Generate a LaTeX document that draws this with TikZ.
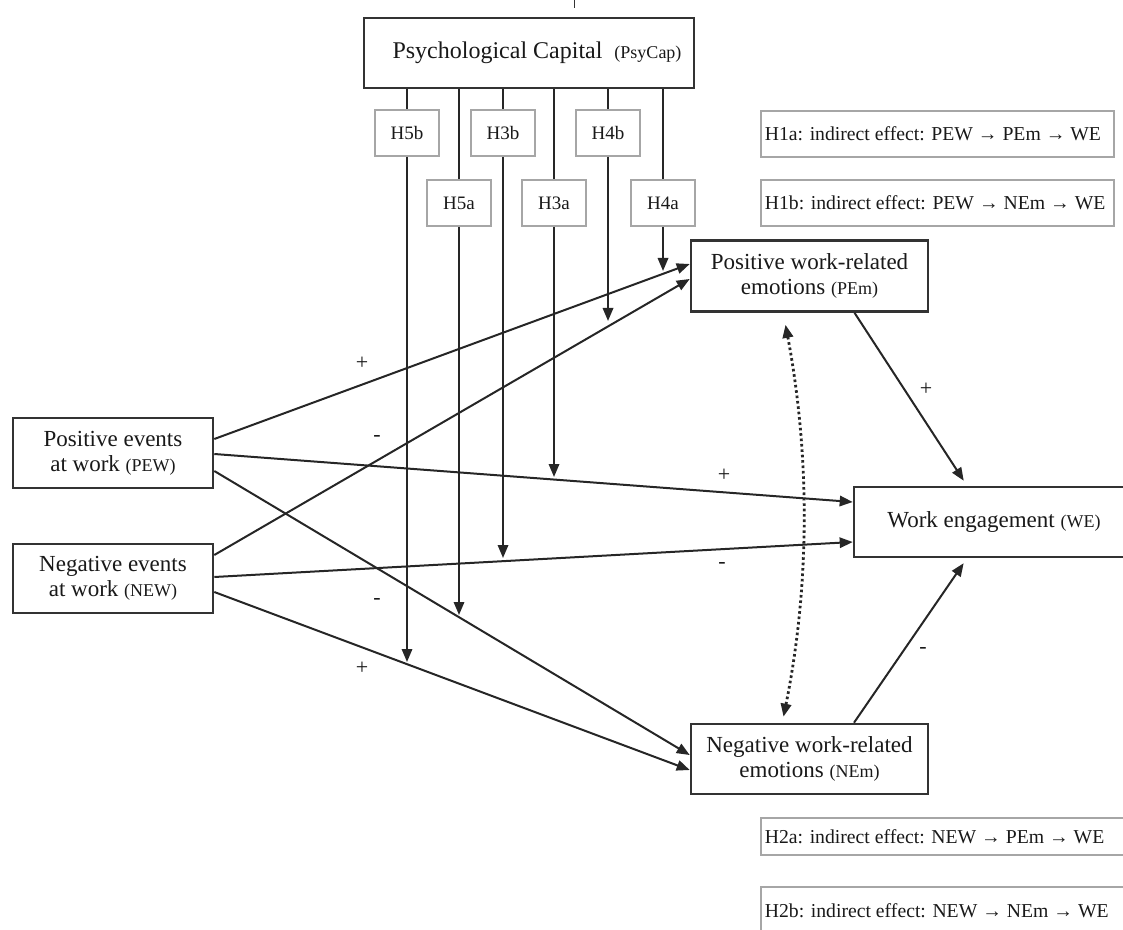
\documentclass[tikz,border=0pt]{standalone}
\usepackage{fontspec}
\setmainfont{Liberation Serif}
\usetikzlibrary{arrows.meta,calc}

\newcommand{\abbr}[1]{{\fontsize{9}{10}\selectfont(#1)}}
\newcommand{\effline}[2]{\makebox[#1][l]{#2}}

\begin{document}
\begin{tikzpicture}[x=0.5pt, y=-0.5pt,
    ink/.style={draw=black!85, line width=1pt},
    arr/.style={ink, -{Triangle[length=6.5pt, width=5.2pt]}},
    var/.style={draw=black!80, line width=1.3pt, fill=white, text=black!90,
        align=center, inner sep=0pt, font=\fontsize{11.5}{12.5}\selectfont},
    hyp/.style={draw=black!35, line width=0.8pt, fill=white, text=black!90,
        inner sep=0pt, minimum width=32pt, minimum height=23pt,
        font=\fontsize{9.5}{11}\selectfont},
    eff/.style={draw=black!35, line width=0.9pt, text=black!90, anchor=west,
        inner ysep=0pt, inner xsep=2pt, font=\fontsize{9.85}{11}\selectfont},
    sign/.style={text=black!90, inner sep=0pt, font=\fontsize{11}{12}\selectfont}]

    % 0. Размер картинки (в пикселях исходника)
    \useasboundingbox (0,0) rectangle (1123,930);
    \clip (0,0) rectangle (1123,930);
    \draw[black!80, line width=0.5pt] (574,0) -- (574,8);

    % 1. Основные блоки
    \node[var, minimum width=165pt, minimum height=35pt] (psycap) at (529,53)
        {\hspace{8pt}\fontsize{12}{13}\selectfont Psychological Capital\ \ \abbr{PsyCap}};
    \node[var, minimum width=100pt, minimum height=35pt] (pew) at (113,453)
        {Positive events\\at work \abbr{PEW}};
    \node[var, minimum width=100pt, minimum height=34.5pt] (new) at (113,578.5)
        {Negative events\\at work \abbr{NEW}};
    \node[var, minimum width=118.5pt, minimum height=35.5pt] (pem) at (809.5,276)
        {Positive work-related\\emotions \abbr{PEm}};
    \node[var, minimum width=118.5pt, minimum height=35pt] (nem) at (809.5,759)
        {Negative work-related\\emotions \abbr{NEm}};
    \node[var, minimum width=140pt, minimum height=35pt] (we) at (994,522)
        {Work engagement \abbr{WE}};

    % 2. Гипотезы о модерации (H3--H5)
    \node[hyp] (h5b) at (407,133) {H5b};
    \node[hyp] (h3b) at (503,133) {H3b};
    \node[hyp] (h4b) at (608,133) {H4b};
    \node[hyp] (h5a) at (459,203) {H5a};
    \node[hyp] (h3a) at (554,203) {H3a};
    \node[hyp] (h4a) at (663,203) {H4a};

    % концы вертикальных стрелок (на линиях связей)
    \coordinate (t5b) at (407,662);
    \coordinate (t3b) at (503,558);
    \coordinate (t4b) at (608,321);
    \coordinate (t5a) at (459,615);
    \coordinate (t3a) at (554,477);
    \coordinate (t4a) at (663,271);

    \foreach \h in {5b,3b,4b,5a,3a,4a} {
        \draw[ink] (psycap.south -| h\h.north) -- (h\h.north);
        \draw[arr] (h\h.south) -- (t\h);
    }

    % 3. Косвенные эффекты (H1, H2)
    \node[eff, minimum height=23pt] (h1a) at (760,134)
        {\effline{172.5pt}{H1a: indirect effect: PEW → PEm → WE}};
    \node[eff, minimum height=23pt] (h1b) at (760,203)
        {\effline{172.5pt}{H1b: indirect effect: PEW →\ NEm → WE}};
    \node[eff, minimum height=18.5pt] (h2a) at (760,836.5)
        {\effline{183.5pt}{H2a: indirect effect: NEW →\ PEm →\ WE}};
    \node[eff, minimum height=24pt] (h2b) at (760,911)
        {\effline{183.5pt}{H2b: indirect effect: NEW →\ NEm →\ WE}};

    % 4. Связи
    \draw[arr] ($(pew.east)+(0,-14)$) -- ($(pem.west)+(0,-12)$);
    \draw[arr] ($(new.east)+(0,-23.5)$) -- ($(pem.west)+(0,3)$);
    \draw[arr] ($(pew.east)+(0,1)$) -- ($(we.west)+(0,-20)$);
    \draw[arr] ($(new.east)+(0,-1.5)$) -- ($(we.west)+(0,20)$);
    \draw[arr] ($(pew.east)+(0,18)$) -- ($(nem.west)+(0,-4)$);
    \draw[arr] ($(new.east)+(0,13.5)$) -- ($(nem.west)+(0,11)$);
    \draw[arr, shorten >=3pt] ($(pem.south)+(45,0)$) -- ($(we.north)+(-27,0)$);
    \draw[arr, shorten >=3pt] ($(nem.north)+(44.5,0)$) -- ($(we.south)+(-27,0)$);

    % пунктирная дуга между эмоциями
    \draw[ink, line width=1.4pt, dash pattern=on 1.3pt off 1.4pt,
          {Triangle[length=6.5pt, width=5.2pt]}-{Triangle[length=6.5pt, width=5.2pt]}]
        ($(pem.south)+(-24,12)$) .. controls (810,455) and (810,585) .. ($(nem.north)+(-26,-6)$);

    % 5. Знаки
    \node[sign] (s1) at (362,363) {+};
    \node[sign] (s2) at (377,438) {-};
    \node[sign] (s3) at (377,601) {-};
    \node[sign] (s4) at (362,668) {+};
    \node[sign] (s5) at (724,475) {+};
    \node[sign] (s6) at (722,565) {-};
    \node[sign] (s7) at (926,389) {+};
    \node[sign] (s8) at (923,650) {-};

\end{tikzpicture}
\end{document}
